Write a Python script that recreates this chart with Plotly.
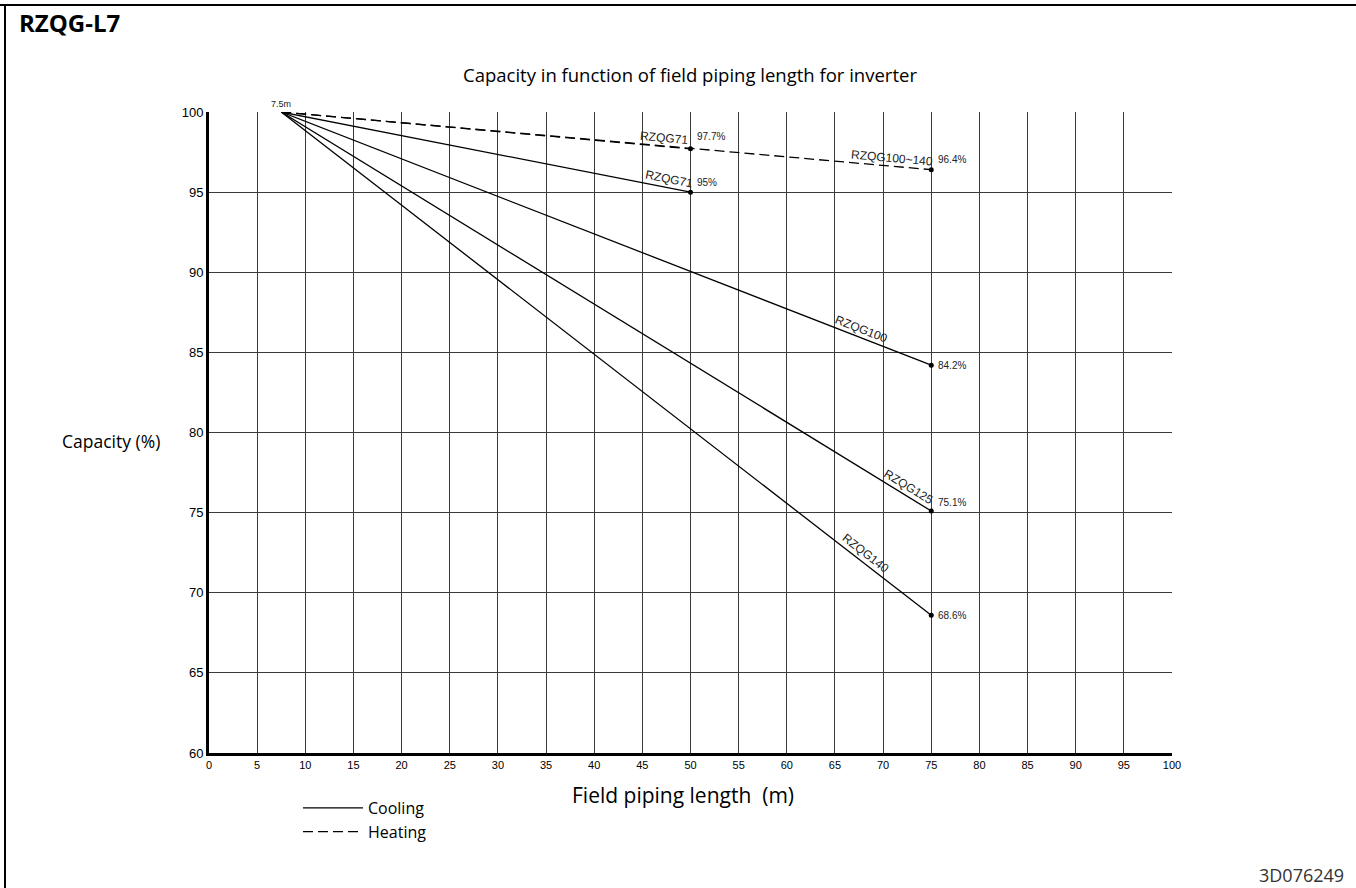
import plotly.graph_objects as go
import math

# ---- data ----
start_length = 7.5
series_names = ["RZQG71", "RZQG100", "RZQG125", "RZQG140", "RZQG71", "RZQG100~140"]
series_mode = ["Cooling", "Cooling", "Cooling", "Cooling", "Heating", "Heating"]
end_length = [50, 75, 75, 75, 50, 75]
end_capacity = [95.0, 84.2, 75.1, 68.6, 97.7, 96.4]
end_labels = ["95%", "84.2%", "75.1%", "68.6%", "97.7%", "96.4%"]
name_label_x = [47.6, 67.4, 72.2, 67.6, 47.2, 70.8]
x_ticks = list(range(0, 101, 5))
y_ticks = list(range(60, 101, 5))

# plot area geometry (pixels)
W, H = 1356, 888
L, R, T, B = 209, 184, 112, 135
pw, ph = W - L - R, H - T - B
xr, yr = [0, 100], [60, 100]
sx = pw / (xr[1] - xr[0])
sy = ph / (yr[1] - yr[0])

fig = go.Figure()
shown = set()
for name, mode, ex, ey in zip(series_names, series_mode, end_length, end_capacity):
    fig.add_trace(go.Scatter(
        x=[start_length, ex], y=[100, ey], mode="lines",
        line=dict(color="black", width=1.3, dash="10px,5px" if mode == "Heating" else "solid"),
        name=mode, legendgroup=mode, showlegend=mode not in shown,
        hoverinfo="skip"))
    shown.add(mode)
    fig.add_trace(go.Scatter(
        x=[ex], y=[ey], mode="markers", marker=dict(color="black", size=5),
        showlegend=False, hoverinfo="skip"))

narrow = "Liberation Sans Narrow, Arial Narrow, Liberation Sans, Arial"
value_off = [0.62, 0.0, 0.56, 0.0, 0.75, 0.62]

annotations = []
for i, (name, ex, ey, lab) in enumerate(zip(series_names, end_length, end_capacity, end_labels)):
    ang = math.degrees(math.atan(((100 - ey) * sy) / ((ex - start_length) * sx)))
    lx = name_label_x[i]
    ly = 100 + (ey - 100) * (lx - start_length) / (ex - start_length)
    d = 8.5
    annotations.append(dict(x=lx, y=ly, text=name, showarrow=False, textangle=ang,
                            xshift=d * math.sin(math.radians(ang)),
                            yshift=d * math.cos(math.radians(ang)),
                            font=dict(family=narrow, size=12, color="#222")))
    annotations.append(dict(x=ex + 0.45, y=ey + value_off[i], text=lab, showarrow=False,
                            xanchor="left",
                            font=dict(family=narrow, size=10, color="#222")))
annotations.append(dict(x=start_length, y=100, yshift=8, text="7.5m", showarrow=False,
                        font=dict(family=narrow, size=9, color="#222")))

def px(x):
    return (x - L) / pw
def py(y):
    return (H - B - y) / ph

sans = "Open Sans, Noto Sans"
annotations += [
    dict(xref="paper", yref="paper", x=px(17), y=py(22), xanchor="left", yanchor="middle",
         text="<b>RZQG-L7</b>", showarrow=False,
         font=dict(family=sans, size=24, color="black")),
    dict(xref="paper", yref="paper", x=px(690), y=py(75), xanchor="center", yanchor="middle",
         text="Capacity in function of field piping length for inverter", showarrow=False,
         font=dict(family=sans, size=18.5, color="black")),
    dict(xref="paper", yref="paper", x=px(111), y=py(441), xanchor="center", yanchor="middle",
         text="Capacity (%)", showarrow=False,
         font=dict(family=sans, size=17.5, color="black")),
    dict(xref="paper", yref="paper", x=px(683), y=py(795), xanchor="center", yanchor="middle",
         text="Field piping length  (m)", showarrow=False,
         font=dict(family=sans, size=21, color="black")),
    dict(xref="paper", yref="paper", x=px(1346), y=py(875), xanchor="right", yanchor="middle",
         text="3D076249", showarrow=False,
         font=dict(family=sans, size=18, color="#333")),
]

shapes = [
    dict(type="line", xref="paper", yref="paper", x0=px(0), x1=px(W), y0=py(5), y1=py(5),
         line=dict(color="black", width=2)),
    dict(type="line", xref="paper", yref="paper", x0=px(5), x1=px(5), y0=py(5), y1=py(H),
         line=dict(color="black", width=2)),
]

fig.update_layout(
    width=W, height=H,
    margin=dict(l=L, r=R, t=T, b=B, autoexpand=False),
    paper_bgcolor="white", plot_bgcolor="white",
    annotations=annotations, shapes=shapes,
    showlegend=True,
    legend=dict(x=px(298), y=py(791), xanchor="left", yanchor="top",
                font=dict(family=sans, size=16, color="black"),
                bgcolor="rgba(0,0,0,0)", tracegroupgap=0, itemwidth=60),
    xaxis=dict(range=xr, tickvals=x_ticks, showgrid=True, gridcolor="#3a3a3a", gridwidth=1,
               showline=True, linecolor="black", linewidth=3, zeroline=False,
               ticks="", tickfont=dict(family=narrow, size=11, color="black")),
    yaxis=dict(range=yr, tickvals=y_ticks, showgrid=True, gridcolor="#3a3a3a", gridwidth=1,
               showline=True, linecolor="black", linewidth=3, zeroline=False,
               ticks="", tickfont=dict(family="Liberation Sans, Arial", size=13, color="black")),
)

fig.write_html("out.html", config={"displayModeBar": False},
               post_script="document.body.style.margin='0';document.body.style.overflow='hidden';")
